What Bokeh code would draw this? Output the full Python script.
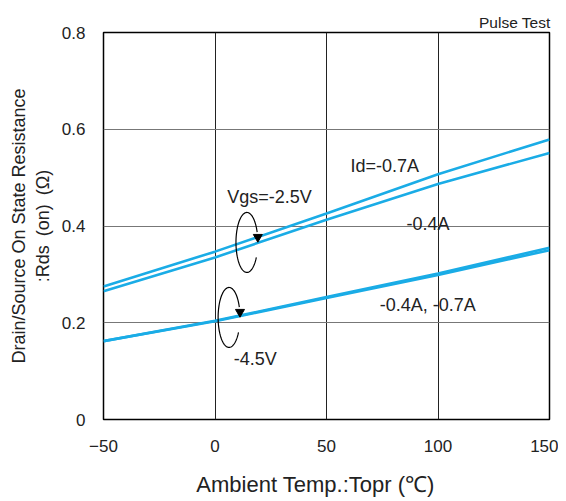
import numpy as np
from bokeh.plotting import figure
from bokeh.embed import file_html
from bokeh.resources import INLINE
from bokeh.models import FixedTicker, CustomJSTickFormatter, Label, Range1d

# ---- data ----
temps = [-50, 0, 50, 100, 150]
rds_vgs25_id07 = [0.275, 0.347, 0.426, 0.507, 0.579]
rds_vgs25_id04 = [0.265, 0.335, 0.413, 0.487, 0.551]
rds_vgs45_id04 = [0.162, 0.203, 0.251, 0.299, 0.350]
rds_vgs45_id07 = [0.162, 0.204, 0.253, 0.302, 0.355]
x_ticks = [-50, 0, 50, 100, 150]
y_ticks = [0, 0.2, 0.4, 0.6, 0.8]

FONT = "Liberation Sans"
BLUE = "#1aace6"

p = figure(width=558, height=501, output_backend="svg", toolbar_location=None,
           x_range=Range1d(-50, 150), y_range=Range1d(0, 0.8),
           min_border_left=103, min_border_right=9, min_border_top=32, min_border_bottom=82)

p.title.text = "Pulse Test"
p.title.align = "right"
p.title.text_font = FONT
p.title.text_font_size = "15.5px"
p.title.text_font_style = "normal"
p.title.text_color = "#222222"
p.title.standoff = 4
p.title.offset = -1

p.outline_line_color = "black"
p.outline_line_width = 1.5

for ax in (p.xaxis[0], p.yaxis[0]):
    ax.axis_line_color = None
    ax.major_tick_line_color = None
    ax.minor_tick_line_color = None
    ax.major_label_text_font = FONT
    ax.major_label_text_font_size = "17px"
    ax.major_label_text_color = "#222222"
    ax.axis_label_text_font = FONT
    ax.axis_label_text_font_style = "normal"
    ax.axis_label_text_color = "#222222"

p.xaxis.axis_label_text_font_size = "22px"
p.yaxis.axis_label_text_font_size = "18px"
p.xaxis.ticker = FixedTicker(ticks=x_ticks)
p.yaxis.ticker = FixedTicker(ticks=y_ticks)
p.yaxis.formatter = CustomJSTickFormatter(code="return tick == 0 ? '0' : tick.toFixed(1);")
p.xaxis.major_label_standoff = 14
p.yaxis.major_label_standoff = 12
p.xaxis.axis_label = "Ambient Temp.:Topr (\u2103)\u2003"
p.yaxis.axis_label = "Drain/Source On State Resistance\n:Rds\u2002(on)\u2002(\u03a9)"
p.xaxis.axis_label_standoff = 17
p.yaxis.axis_label_standoff = 6

p.xgrid.grid_line_color = "#222222"
p.ygrid.grid_line_color = "#777777"
p.xgrid.grid_line_width = 1
p.ygrid.grid_line_width = 1

p.line(temps, rds_vgs25_id07, line_color=BLUE, line_width=2.6)
p.line(temps, rds_vgs25_id04, line_color=BLUE, line_width=2.6)
p.line(temps, rds_vgs45_id04, line_color=BLUE, line_width=2.6)
p.line(temps, rds_vgs45_id07, line_color=BLUE, line_width=2.6)

# curved arrows (elliptical arcs) in data units
def arc(cx, cy, rx, ry):
    t = np.radians(np.linspace(-30, -340, 80))
    return cx + rx * np.cos(t), cy + ry * np.sin(t)

# ellipse 1 around Vgs=-2.5V lines
ax1, ay1 = arc(14.3, 0.366, 4.9, 0.062)
p.line(ax1, ay1, line_color="black", line_width=1.2)
p.scatter([ax1[-1] + 0.3], [ay1[-1] - 0.01], marker="triangle", angle=np.pi,
          size=9, color="black")
# ellipse 2 around Vgs=-4.5V lines
ax2, ay2 = arc(6.3, 0.211, 4.9, 0.062)
p.line(ax2, ay2, line_color="black", line_width=1.2)
p.scatter([ax2[-1] + 0.3], [ay2[-1] - 0.01], marker="triangle", angle=np.pi,
          size=9, color="black")

labels = [
    ("Id=-0.7A", 60.8, 0.523),
    ("-0.4A", 85.9, 0.405),
    ("-0.4A, -0.7A", 73.9, 0.236),
    ("Vgs=-2.5V", 5.5, 0.459),
    ("-4.5V", 8.4, 0.126),
]
for txt, x, y in labels:
    p.add_layout(Label(x=x, y=y, text=txt, text_font=FONT, text_font_size="18px",
                       text_baseline="middle", text_align="left", text_color="#222222"))

open("out.html", "w").write(file_html(p, INLINE))
